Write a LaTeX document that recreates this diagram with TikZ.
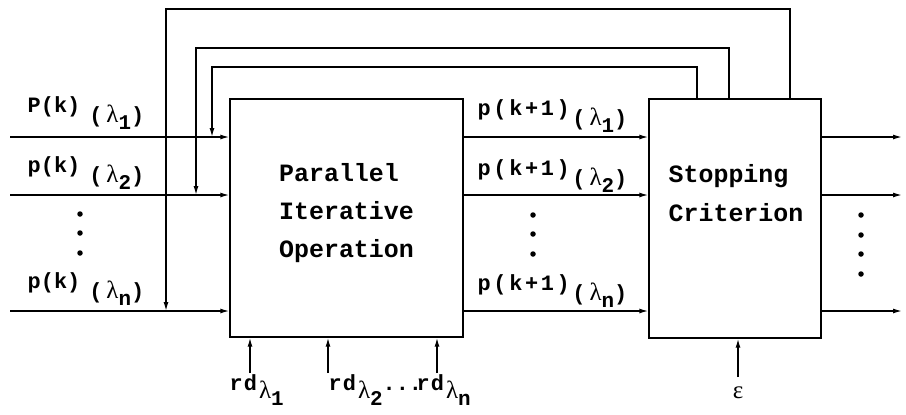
\documentclass[tikz,border=0pt]{standalone}
\usepackage{fontspec}
\setmainfont{Liberation Mono}
\newfontfamily\grk{Liberation Serif}
\usetikzlibrary{arrows.meta}
\newcommand\lamsub[1]{{\grk\fontsize{25}{26}\selectfont λ}\raisebox{-7bp}{\fontsize{21}{22}\selectfont\textbf{#1}}}
\newcommand\pklabel[2]{\textbf{#1(k)}\hspace{9bp}\raisebox{-10bp}{\textbf{(}\hspace{4bp}\lamsub{#2}\textbf{)}}}
\newcommand\pkklabel[1]{{\addfontfeatures{LetterSpace=12}\textbf{p(k+1)}}\raisebox{-10bp}{\textbf{(}\hspace{4bp}\lamsub{#1}\textbf{)}}}
\newcommand\rdlabel[1]{\textbf{r\hspace{1bp}d}\hspace{2bp}\raisebox{-8bp}{\lamsub{#1}}}
\begin{document}
\begin{tikzpicture}[x=1bp,y=-1bp,line width=1.4bp,
  >={Latex[length=9bp,width=5bp]},
  blk/.style={draw,inner sep=0pt},
  lbl/.style={font=\fontsize{22}{24}\selectfont,inner sep=0pt,anchor=base west},
  boxtxt/.style={font=\fontsize{25}{38.5}\selectfont\bfseries,align=left,inner sep=0pt},
  dot/.style={circle,fill,inner sep=0pt,minimum size=5.5bp}]
\useasboundingbox (0,0) rectangle (906,414);

% blocks
\node[blk,minimum width=233bp,minimum height=238bp] (pio) at (346.5,218) {};
\node[blk,minimum width=172bp,minimum height=239bp] (scb) at (735,218.5) {};
\node[boxtxt] (piotxt) at (346.5,213) {Parallel\\Iterative\\Operation};
\node[boxtxt] (scbtxt) at (736,193) {Stopping\\Criterion};

% input / output line coordinates
\coordinate (i1) at (10,137);
\coordinate (i2) at (10,195);
\coordinate (i3) at (10,311);
\coordinate (o1) at (902,137);
\coordinate (o2) at (902,195);
\coordinate (o3) at (902,311);

\foreach \k in {1,2,3}{
  \draw[->] (i\k) -- (i\k -| pio.west);
  \draw[->] (pio.east |- i\k) -- (scb.west |- i\k);
  \draw[->] (scb.east |- i\k) -- (o\k);
}

% feedback loops
\coordinate (t1) at (697,99);
\coordinate (t2) at (729,99);
\coordinate (t3) at (790,99);
\coordinate (e1) at (212,137);
\coordinate (e2) at (196,195);
\coordinate (e3) at (166,311);
\draw[->] (t1) -- ++(0,-32) -| (e1);
\draw[->] (t2) -- ++(0,-51) -| (e2);
\draw[->] (t3) -- ++(0,-90) -| (e3);

% labels
\node[lbl] (l1) at (27,112) {\pklabel{P}{1}};
\node[lbl] (l2) at (27,172) {\pklabel{p}{2}};
\node[lbl] (l3) at (27,288) {\pklabel{p}{n}};
\node[lbl] (m1) at (477,115) {\pkklabel{1}};
\node[lbl] (m2) at (477,175) {\pkklabel{2}};
\node[lbl] (m3) at (477,290) {\pkklabel{n}};

% dots
\node[dot] (ld1) at (80,214) {};
\node[dot] (ld2) at (80,233) {};
\node[dot] (ld3) at (80,253) {};
\node[dot] (md1) at (533,215) {};
\node[dot] (md2) at (533,234) {};
\node[dot] (md3) at (533,254) {};
\node[dot] (rd1) at (861,215) {};
\node[dot] (rd2) at (861,235) {};
\node[dot] (rd3) at (861,254) {};
\node[dot] (rd4) at (861,274) {};

% bottom inputs
\coordinate (b1) at (250,373);
\coordinate (b2) at (328,373);
\coordinate (b3) at (437,373);
\coordinate (b4) at (738,377);
\foreach \k in {1,2,3}{
  \draw[->] (b\k) -- (b\k |- pio.south);
}
\draw[->] (b4) -- (b4 |- scb.south);
\node[lbl] (r1) at (229,390) {\rdlabel{1}};
\node[lbl] (r2) at (328,390) {\rdlabel{2}\textbf{...}};
\node[lbl] (r3) at (416,390) {\rdlabel{n}};
\node[lbl,anchor=base] (eps) at (738,398) {{\grk\fontsize{25}{26}\selectfont ε}};
\end{tikzpicture}
\end{document}
